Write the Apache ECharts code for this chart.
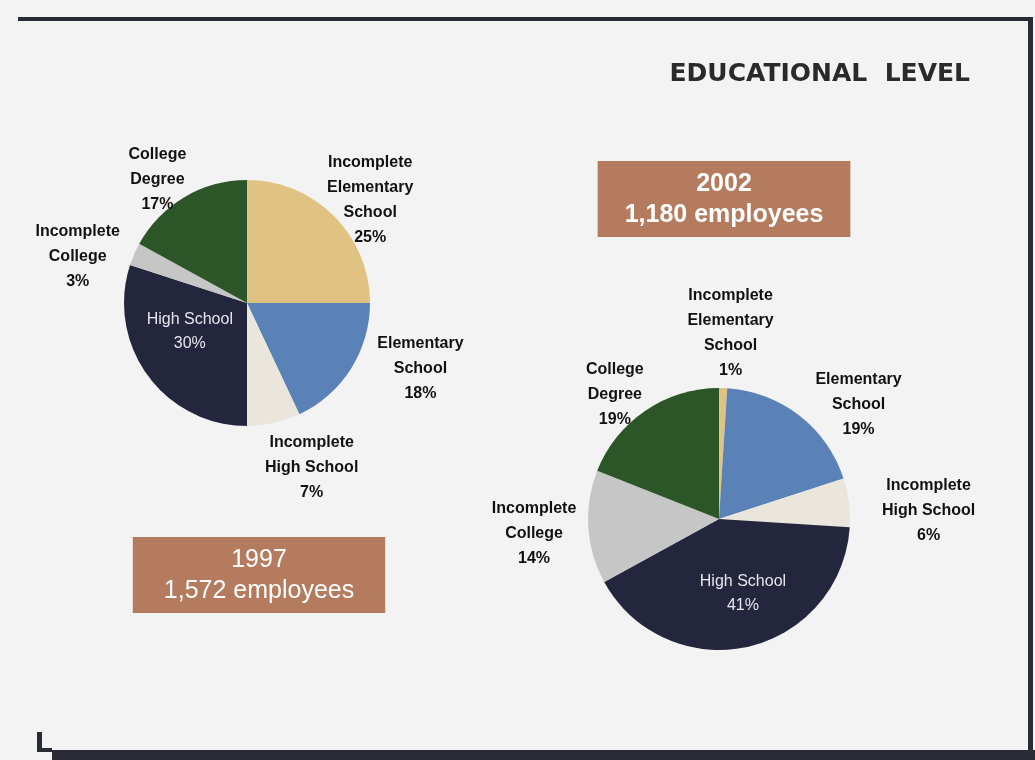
<!DOCTYPE html>
<html>
<head>
<meta charset="utf-8">
<script src="https://cdn.jsdelivr.net/npm/echarts@6/dist/echarts.min.js"></script>
<style>
  html, body { margin: 0; padding: 0; background: #f3f3f3; }
  #chart { width: 1035px; height: 760px; }
</style>
</head>
<body>
<div id="chart"></div>
<script>
// education levels, clockwise from 12 o'clock
const levels = [
  'Incomplete\nElementary\nSchool',
  'Elementary\nSchool',
  'Incomplete\nHigh School',
  'High School',
  'Incomplete\nCollege',
  'College\nDegree'
]
const share1997 = [25, 18, 7, 30, 3, 17]
const share2002 = [1, 19, 6, 41, 14, 19]
const years = ['1997', '2002']
const employees = ['1,572', '1,180']

const colorList = ['#e0c282', '#5a82b6', '#ebe6dc', '#24263d', '#c6c6c6', '#2d5628']
const insideIndex = 3

// hand nudges so the labels sit where the original slide put them
const nudge1997 = [[-19, -9], [13, -6], [-16, 35], [-5, -9], [0, 6], [12, -9]]
const nudge2002 = [[-41, -45], [5, -3], [18, 9], [9, 8], [3, 6], [9, -8]]

const chart = echarts.init(document.getElementById('chart'))

const labelFont = {
  color: '#111',
  fontFamily: 'Liberation Sans, Arial, sans-serif',
  fontWeight: 'bold',
  fontSize: 16,
  lineHeight: 25
}

const pieSeries = (values, center, radius, nudge) => ({
  type: 'pie',
  center,
  radius,
  startAngle: 90,
  clockwise: true,
  avoidLabelOverlap: false,
  silent: true,
  animation: false,
  itemStyle: { borderWidth: 0 },
  label: {
    ...labelFont,
    position: 'outside',
    formatter: p => p.name + '\n' + p.value + '%'
  },
  labelLine: { show: false, length: 10, length2: 0 },
  labelLayout: p => ({
    x: p.labelRect.x + p.labelRect.width / 2 + nudge[p.dataIndex][0],
    y: p.labelRect.y + p.labelRect.height / 2 + nudge[p.dataIndex][1],
    align: 'center',
    verticalAlign: 'middle'
  }),
  data: values.map((v, i) => ({
    name: levels[i],
    value: v,
    itemStyle: { color: colorList[i] },
    label: i === insideIndex
      ? { position: 'inside', color: '#e6e6ee', fontWeight: 'normal', fontSize: 16, lineHeight: 24 }
      : undefined
  }))
})

const yearBox = (i, left, top, weight, padX) => ({
  text: years[i] + '\n' + employees[i] + ' employees',
  left,
  top,
  textAlign: 'center',
  backgroundColor: '#b57b5f',
  padding: [8, padX, 6, padX],
  textStyle: {
    color: '#fff',
    fontFamily: 'Liberation Sans, Arial, sans-serif',
    fontWeight: weight,
    fontSize: 25,
    lineHeight: 31
  }
})

chart.setOption({
  backgroundColor: '#f3f3f3',
  title: [
    {
      text: 'EDUCATIONAL  LEVEL',
      right: 60,
      top: 57,
      textStyle: {
        color: '#2a2a2a',
        fontFamily: 'DejaVu Sans, sans-serif',
        fontWeight: 'bold',
        fontSize: 25
      }
    },
    yearBox(0, 228, 537, 'normal', 31),
    yearBox(1, 697, 161, 'bold', 27)
  ],
  graphic: [
    { type: 'rect', shape: { x: 18, y: 17, width: 1014, height: 4 }, style: { fill: '#2b2b36' } },
    { type: 'rect', shape: { x: 1028, y: 17, width: 5, height: 743 }, style: { fill: '#2b2b36' } },
    { type: 'rect', shape: { x: 52, y: 750, width: 983, height: 10 }, style: { fill: '#2b2b36' } },
    { type: 'rect', shape: { x: 37, y: 732, width: 5, height: 20 }, style: { fill: '#2b2b36' } },
    { type: 'rect', shape: { x: 37, y: 748, width: 15, height: 4 }, style: { fill: '#2b2b36' } }
  ],
  series: [
    pieSeries(share1997, [247, 303], 123, nudge1997),
    pieSeries(share2002, [719, 519], 131, nudge2002)
  ]
})
</script>
</body>
</html>
